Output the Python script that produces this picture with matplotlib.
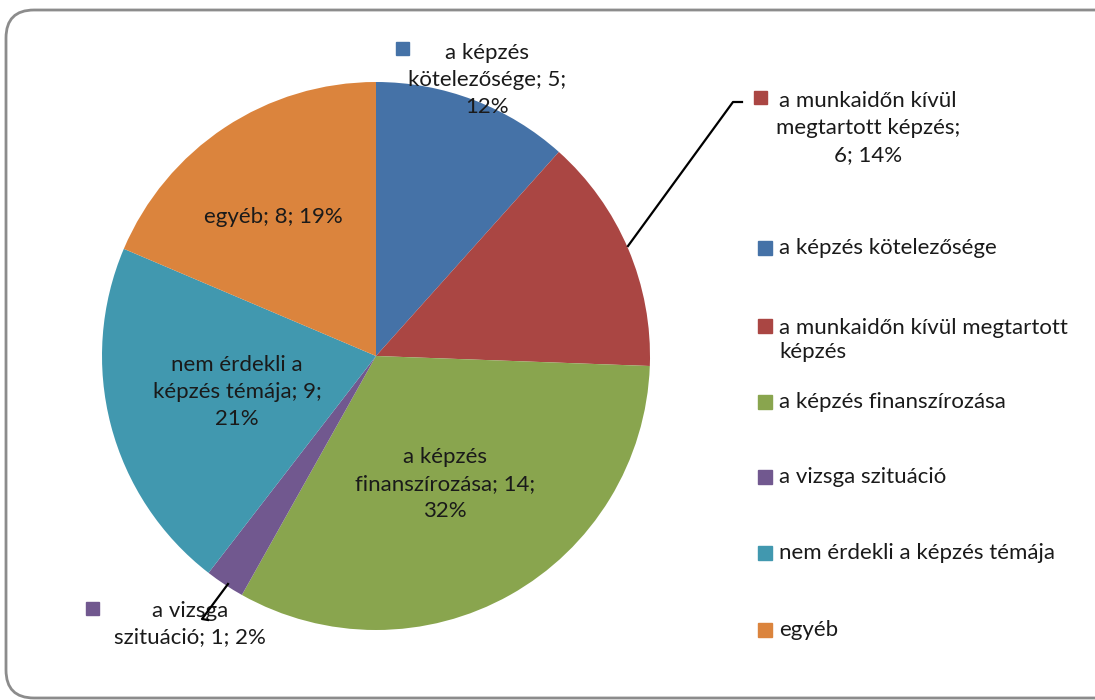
import matplotlib
matplotlib.use("Agg")
import matplotlib.pyplot as plt
from matplotlib.patches import FancyBboxPatch, Rectangle

# Reasons for not attending training
categories = [
    "a képzés kötelezősége",
    "a munkaidőn kívül megtartott képzés",
    "a képzés finanszírozása",
    "a vizsga szituáció",
    "nem érdekli a képzés témája",
    "egyéb",
]
counts = [5, 6, 14, 1, 9, 8]
pct_labels = ["12%", "14%", "32%", "2%", "21%", "19%"]
colors = ["#4572A7", "#AA4643", "#89A54E", "#71588F", "#4198AF", "#DB843D"]

W, H = 1095, 700
FONT = "Lato"
FS = 16

fig = plt.figure(figsize=(W / 100, H / 100), dpi=100)
ax = fig.add_axes([0, 0, 1, 1])
ax.set_xlim(0, W)
ax.set_ylim(0, H)
ax.set_aspect("equal")
ax.axis("off")


def py(y):
    """Convert a top-down pixel row into the axes' y coordinate."""
    return H - y


# chart frame
frame = FancyBboxPatch((6, py(698)), 1120, 688,
                       boxstyle="round,pad=0,rounding_size=28",
                       fc="white", ec="#8c8c8c", lw=2.0, zorder=0)
ax.add_patch(frame)

cx, cy, r = 376, py(356), 274
wedges, _ = ax.pie(counts, colors=colors, startangle=90, counterclock=False,
                   center=(cx, cy), radius=r, frame=True,
                   wedgeprops=dict(linewidth=0))
ax.set_xlim(0, W)
ax.set_ylim(0, H)
ax.axis("off")

txt = dict(fontsize=FS, family=FONT, color="#1a1a1a", ha="center", va="center",
           linespacing=1.42)

# data labels inside / near the slices
ax.text(487, py(80), f"a képzés\n{categories[0][9:]}; {counts[0]};\n{pct_labels[0]}", **txt)
ax.add_patch(Rectangle((396, py(55)), 13, 13, color=colors[0]))

ax.text(868, py(128), f"a munkaidőn kívül\nmegtartott képzés;\n{counts[1]}; {pct_labels[1]}", **txt)
ax.add_patch(Rectangle((754, py(104)), 13, 13, color=colors[1]))
ax.plot([628, 733, 742], [py(246), py(102), py(102)], color="black", lw=1.6, zorder=3)

ax.text(445, py(484), f"a képzés\nfinanszírozása; {counts[2]};\n{pct_labels[2]}", **txt)

ax.text(190, py(624), f"a vizsga\nszituáció; {counts[3]}; {pct_labels[3]}", **txt)
ax.add_patch(Rectangle((86, py(615)), 13, 13, color=colors[3]))
ax.plot([228, 202, 208], [py(584), py(619), py(620)], color="black", lw=1.6, zorder=3)

ax.text(237, py(392), f"nem érdekli a\nképzés témája; {counts[4]};\n{pct_labels[4]}", **txt)

ax.text(273, py(217), f"egyéb; {counts[5]}; {pct_labels[5]}", **txt)

# legend
legend_rows = [248, 340, 402, 477, 553, 630]
legend_text = [
    "a képzés kötelezősége",
    "a munkaidőn kívül megtartott\nképzés",
    "a képzés finanszírozása",
    "a vizsga szituáció",
    "nem érdekli a képzés témája",
    "egyéb",
]
for y, lab, c in zip(legend_rows, legend_text, colors):
    n = lab.count("\n")
    ytop = y - n * 14
    ax.add_patch(Rectangle((758, py(ytop + 7)), 14, 14, color=c))
    ax.text(779, py(y), lab, fontsize=FS, family=FONT, color="#1a1a1a",
            ha="left", va="center", linespacing=1.27)

fig.savefig("out.png", dpi=100)
